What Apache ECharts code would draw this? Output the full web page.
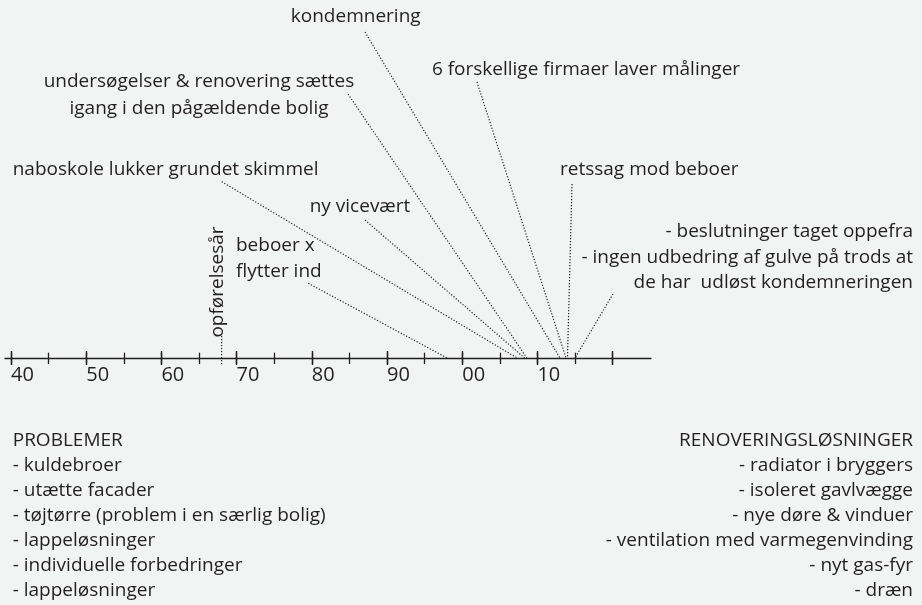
<!DOCTYPE html>
<html><head><meta charset="utf-8">
<script src="https://cdn.jsdelivr.net/npm/echarts@6/dist/echarts.min.js"></script>
<style>html,body{margin:0;padding:0;background:#f2f4f3}#c{width:922px;height:605px}</style>
</head><body><div id="c"></div>
<script>
// ---------- data ----------
const axisStartYear = 1939.2, axisEndYear = 2025.1;
const tickMin = 1940, tickMax = 2020;
const majorStep = 10, minorStep = 5;
const tickLabelYears = [1940, 1950, 1960, 1970, 1980, 1990, 2000, 2010];
const eventYears = [1968, 1998, 2007.3, 2008.3, 2008.6, 2013, 2013.8, 2014, 2015];
const eventLabels = [
  'opførelsesår',
  'beboer x\nflytter ind',
  'naboskole lukker grundet skimmel',
  'ny vicevært',
  'undersøgelser & renovering sættes\nigang i den pågældende bolig',
  'kondemnering',
  '6 forskellige firmaer laver målinger',
  'retssag mod beboer',
  '- beslutninger taget oppefra\n- ingen udbedring af gulve på trods at\nde har  udløst kondemneringen'
];
const problemer = ['PROBLEMER', '- kuldebroer', '- utætte facader', '- tøjtørre (problem i en særlig bolig)',
  '- lappeløsninger', '- individuelle forbedringer', '- lappeløsninger'];
const renovering = ['RENOVERINGSLØSNINGER', '- radiator i bryggers', '- isoleret gavlvægge', '- nye døre & vinduer',
  '- ventilation med varmegenvinding', '- nyt gas-fyr', '- dræn'];

// ---------- layout ----------
const INK = '#231f20';
const FS = 19;
const FONT_FAMILY = '"Open Sans", sans-serif';
const X0 = 11, PX_PER_YEAR = 7.52;
const labelLayout = [
  {x: 217.3, y: 282, align: 'center', rot: Math.PI / 2, lead: [221.7, 336], endOff: 7},
  {x: 236, y: 246, align: 'left', lh: 25.7, lead: [308.3, 283.3]},
  {x: 12.7, y: 170, align: 'left', lead: [221.7, 181.7]},
  {x: 360, y: 206.7, align: 'center', lead: [365, 220]},
  {x: 199, y: 81.7, align: 'center', lh: 26.5, lead: [348, 94]},
  {x: 355.7, y: 16.5, align: 'center', lead: [365, 32]},
  {x: 586, y: 70, align: 'center', lead: [477, 82]},
  {x: 560, y: 169.7, align: 'left', lead: [572, 184]},
  {x: 913, y: 232, align: 'right', lh: 25.5, lead: [613, 294]}
];
const listTop = 440.7, listStep = 25;

function textEl(txt, x, y, align, lh, rot) {
  return {
    type: 'text', x: x, y: y, rotation: rot || 0, silent: true,
    style: {
      text: txt, fill: INK, font: FS + 'px ' + FONT_FAMILY,
      align: align, verticalAlign: 'middle', lineHeight: lh || 25
    }
  };
}

const graphics = [];
eventLabels.forEach((t, i) => {
  const L = labelLayout[i];
  const nLines = t.split('\n').length;
  const lh = L.lh || 25;
  const cy = L.y + (nLines - 1) * lh / 2;
  graphics.push(textEl(t, L.x, cy, L.align, lh, L.rot));
});
problemer.forEach((t, i) => graphics.push(textEl(t, 12.7, listTop + i * listStep, 'left')));
renovering.forEach((t, i) => graphics.push(textEl(t, 913, listTop + i * listStep, 'right')));

const chart = echarts.init(document.getElementById('c'), null, {renderer: 'canvas'});
const gridWidth = (tickMax - tickMin) * PX_PER_YEAR;
const axisLeft = X0 - (tickMin - axisStartYear) * PX_PER_YEAR;
const axisWidth = (axisEndYear - axisStartYear) * PX_PER_YEAR;

chart.setOption({
  backgroundColor: '#f2f4f3',
  animation: false,
  grid: [
    {left: X0, width: gridWidth, top: 351, height: 14},
    {left: X0, width: gridWidth, top: 352.7, height: 11.3},
    {left: axisLeft, width: axisWidth, top: 300, height: 58}
  ],
  xAxis: [
    {gridIndex: 0, type: 'value', min: tickMin, max: tickMax, interval: majorStep,
      axisLine: {show: false, onZero: false}, axisTick: {show: false},
      splitLine: {show: true, lineStyle: {color: INK, width: 1.4}},
      axisLabel: {show: true, align: 'left', margin: 0, color: INK, fontSize: 20, fontFamily: FONT_FAMILY,
        formatter: v => tickLabelYears.includes(v) ? String(v % 100).padStart(2, '0') : ''}},
    {gridIndex: 1, type: 'value', min: tickMin, max: tickMax, interval: minorStep,
      axisLine: {show: false, onZero: false}, axisTick: {show: false}, axisLabel: {show: false},
      splitLine: {show: true, lineStyle: {color: INK, width: 1.3}}},
    {gridIndex: 2, type: 'value', min: axisStartYear, max: axisEndYear,
      axisLine: {show: true, onZero: false, lineStyle: {color: INK, width: 1.3}}, axisTick: {show: false},
      axisLabel: {show: false}, splitLine: {show: false}}
  ],
  yAxis: [
    {gridIndex: 0, type: 'value', min: -1, max: 1, show: false},
    {gridIndex: 1, type: 'value', min: -1, max: 1, show: false},
    {gridIndex: 2, type: 'value', min: -1, max: 1, show: false}
  ],
  series: [{
    type: 'custom', xAxisIndex: 0, yAxisIndex: 0, clip: false, silent: true,
    data: eventYears.map((y, i) => [y, 0, i]),
    renderItem: function (params, api) {
      const i = api.value(2);
      const p = api.coord([api.value(0), 0]);
      const L = labelLayout[i];
      return {
        type: 'line',
        shape: {x1: L.lead[0], y1: L.lead[1], x2: p[0], y2: p[1] + (L.endOff || 0)},
        style: {stroke: INK, lineWidth: 1.2, lineDash: [1.2, 1.8], fill: null}
      };
    }
  }],
  graphic: graphics
});
</script>
</body></html>
